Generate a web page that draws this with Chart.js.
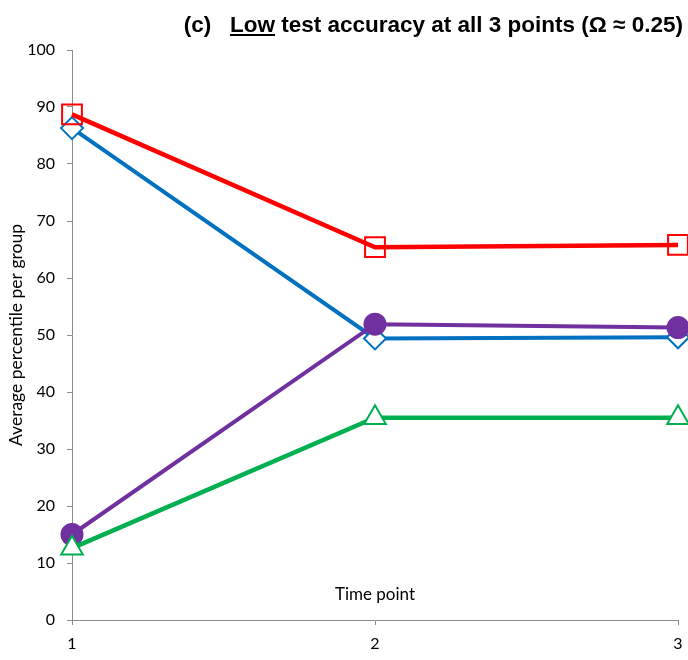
<!DOCTYPE html>
<html>
<head>
<meta charset="utf-8">
<script src="https://cdn.jsdelivr.net/npm/chart.js@4/dist/chart.umd.min.js"></script>
<style>
  html, body { margin: 0; padding: 0; background: #fff; }
  #wrap { width: 688px; height: 660px; position: relative; }
</style>
</head>
<body>
<div id="wrap"><canvas id="c" width="688" height="660"></canvas></div>
<script>
// Time points on the x axis
const timePoints = [1, 2, 3];
// Average percentile per group at each time point
const redSquares    = [88.7, 65.4, 65.8];
const blueDiamonds  = [86.3, 49.4, 49.6];
const purpleCircles = [15.0, 51.9, 51.3];
const greenTriangles = [12.6, 35.5, 35.5];
// Axis ticks
const yTicks = [0, 10, 20, 30, 40, 50, 60, 70, 80, 90, 100];

const titleLead = '(c)   ';
const titleUnderlined = 'Low';
const titleRest = ' test accuracy at all 3 points (\u03A9 \u2248 0.25)';
const xAxisTitle = 'Time point';
const yAxisTitle = 'Average percentile per group';

const toXY = vals => vals.map((v, i) => ({ x: timePoints[i], y: v }));

const TICK_FONT = { family: 'Lato, "Open Sans", sans-serif', size: 16 };
const AXIS_GREY = '#8c8c8c';

// Bold heading with the first word underlined, right-aligned at the top
const headingPlugin = {
  id: 'heading',
  afterDraw(chart) {
    const ctx = chart.ctx;
    ctx.save();
    ctx.font = 'bold 22.5px "Liberation Sans", Arial, sans-serif';
    ctx.fillStyle = '#000';
    ctx.textBaseline = 'alphabetic';
    ctx.textAlign = 'left';
    const w1 = ctx.measureText(titleLead).width;
    const w2 = ctx.measureText(titleUnderlined).width;
    const w3 = ctx.measureText(titleRest).width;
    const right = 683, base = 32;
    let x = right - (w1 + w2 + w3);
    ctx.fillText(titleLead, x, base);
    x += w1;
    ctx.fillText(titleUnderlined, x, base);
    ctx.fillRect(x, base + 2, w2, 2);
    x += w2;
    ctx.fillText(titleRest, x, base);
    ctx.restore();
  }
};

// X axis caption sits inside the plot, just above the baseline
const xCaptionPlugin = {
  id: 'xCaption',
  afterDraw(chart) {
    const ctx = chart.ctx;
    const xs = chart.scales.x;
    const ys = chart.scales.y;
    ctx.save();
    ctx.font = '17px Lato, "Open Sans", sans-serif';
    ctx.fillStyle = '#000';
    ctx.textAlign = 'center';
    ctx.textBaseline = 'middle';
    ctx.fillText(xAxisTitle, xs.getPixelForValue(2), ys.getPixelForValue(4.5));
    ctx.restore();
  }
};

const ds = (label, data, color, style, radius, fill, lineW) => ({
  label,
  data: toXY(data),
  borderColor: color,
  borderWidth: lineW,
  pointStyle: style,
  pointRadius: radius,
  pointHoverRadius: radius,
  pointBorderColor: color,
  pointBackgroundColor: fill,
  pointBorderWidth: 2,
  tension: 0,
  fill: false,
  clip: false
});

new Chart(document.getElementById('c'), {
  type: 'line',
  data: {
    datasets: [
      ds('Green', greenTriangles, '#00B050', 'triangle', 12.5, '#ffffff', 4.5),
      ds('Purple', purpleCircles, '#7030A0', 'circle', 10.5, '#7030A0', 4),
      ds('Red', redSquares, '#FF0000', 'rect', 14, 'rgba(0,0,0,0)', 4.5),
      ds('Blue', blueDiamonds, '#0070C0', 'rectRot', 11, '#ffffff', 4)
    ]
  },
  options: {
    responsive: false,
    animation: false,
    layout: { autoPadding: false, padding: { top: 50, right: 10, left: 0, bottom: 0 } },
    plugins: {
      legend: { display: false },
      tooltip: { enabled: false },
      title: { display: false }
    },
    scales: {
      x: {
        type: 'linear',
        min: 1,
        max: 3,
        afterBuildTicks(scale) { scale.ticks = timePoints.map(v => ({ value: v })); },
        afterFit(scale) {
          scale.height = 40;
          scale.paddingLeft = 0;
          scale.paddingRight = 0;
        },
        ticks: { color: '#000', font: TICK_FONT, padding: 9 },
        grid: { drawOnChartArea: false, drawTicks: true, tickLength: 5, color: AXIS_GREY },
        border: { color: AXIS_GREY, width: 1 }
      },
      y: {
        type: 'linear',
        min: 0,
        max: 100,
        afterBuildTicks(scale) { scale.ticks = yTicks.map(v => ({ value: v })); },
        afterFit(scale) {
          scale.width = 72;
          scale.paddingTop = 0;
          scale.paddingBottom = 0;
        },
        ticks: { color: '#000', font: TICK_FONT, padding: 12 },
        grid: { drawOnChartArea: false, drawTicks: true, tickLength: 5, color: AXIS_GREY },
        border: { color: AXIS_GREY, width: 1 },
        title: {
          display: true,
          text: yAxisTitle,
          color: '#000',
          font: { family: 'Lato, "Open Sans", sans-serif', size: 17.5 },
          padding: { top: 6, bottom: 0 }
        }
      }
    }
  },
  plugins: [headingPlugin, xCaptionPlugin]
});
</script>
</body>
</html>
